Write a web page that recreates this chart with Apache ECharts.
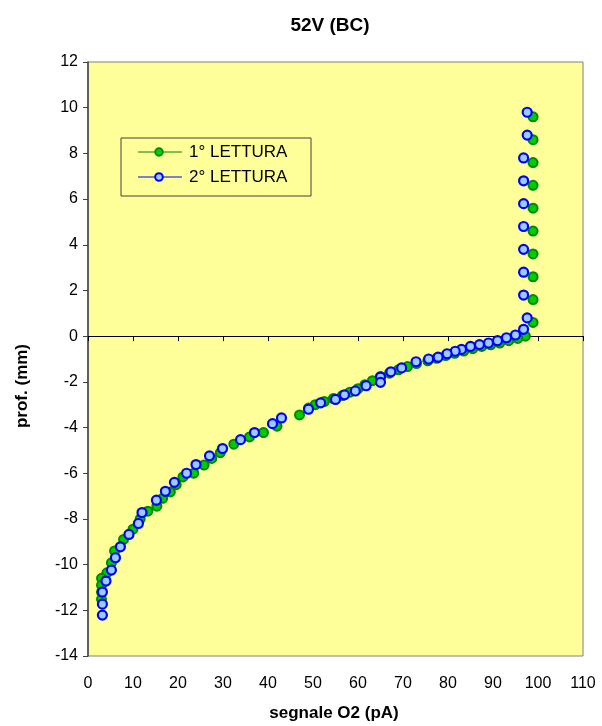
<!DOCTYPE html>
<html>
<head>
<meta charset="utf-8">
<script src="https://cdn.jsdelivr.net/npm/echarts@6/dist/echarts.min.js"></script>
<style>
html,body{margin:0;padding:0;background:#fff;}
#c{width:602px;height:726px;}
</style>
</head>
<body>
<div id="c"></div>
<script>
var titleText = "52V (BC)";
var xName = "segnale O2 (pA)";
var yName = "prof. (mm)";
var seriesNames = ["1° LETTURA", "2° LETTURA"];
var xTicks = [0, 10, 20, 30, 40, 50, 60, 70, 80, 90, 100, 110];
var yTicks = [-14, -12, -10, -8, -6, -4, -2, 0, 2, 4, 6, 8, 10, 12];

// 1° LETTURA : [segnale O2, prof.]
var lettura1 = [
  [98.9, 9.6], [98.9, 8.6], [98.9, 7.6], [98.9, 6.6], [98.9, 5.6], [98.9, 4.6],
  [98.9, 3.6], [98.9, 2.6], [98.9, 1.6], [98.9, 0.6],
  [97.2, 0.0], [95.5, -0.1], [93.5, -0.2], [91.5, -0.3], [89.5, -0.38], [87.5, -0.45],
  [85.5, -0.55], [83.5, -0.65], [81.5, -0.75], [79.5, -0.85], [77.5, -0.97], [75.5, -1.08],
  [73.0, -1.2], [71.0, -1.33], [69.0, -1.47], [67.0, -1.62], [65.0, -1.77], [63.2, -1.95],
  [61.5, -2.13], [60.0, -2.3], [58.2, -2.45], [56.5, -2.6], [54.5, -2.73], [52.5, -2.86],
  [50.5, -3.0], [49.0, -3.15], [47.0, -3.45],
  [42.0, -3.94], [39.0, -4.22], [35.9, -4.41], [32.4, -4.73], [29.4, -5.1], [27.5, -5.35],
  [25.8, -5.64], [23.5, -6.0], [21.1, -6.16], [19.6, -6.5], [18.3, -6.82], [16.6, -7.1],
  [15.3, -7.44], [13.3, -7.66], [11.6, -8.0], [10.0, -8.45], [7.9, -8.9], [5.9, -9.4],
  [5.2, -9.92], [4.2, -10.36], [3.0, -10.6], [3.0, -10.9], [3.0, -11.2], [3.0, -11.52]
];

// 2° LETTURA : [segnale O2, prof.]
var lettura2 = [
  [97.6, 9.8], [97.6, 8.8], [96.8, 7.8], [96.8, 6.8], [96.8, 5.8], [96.8, 4.8],
  [96.8, 3.8], [96.8, 2.8], [96.8, 1.8], [97.6, 0.8],
  [96.8, 0.3], [95.0, 0.05], [93.0, -0.07], [91.0, -0.2], [89.0, -0.3], [87.0, -0.37],
  [85.0, -0.45], [83.0, -0.58], [81.6, -0.66], [79.8, -0.77], [77.8, -0.92], [75.7, -1.0],
  [72.9, -1.12], [69.7, -1.39], [67.3, -1.56], [65.0, -1.79], [65.0, -2.02], [61.8, -2.17],
  [59.4, -2.4], [57.0, -2.57], [55.0, -2.77], [51.7, -2.92], [49.0, -3.2],
  [43.0, -3.58], [41.0, -3.83], [37.0, -4.22], [33.9, -4.53], [29.9, -4.92], [27.0, -5.24],
  [24.0, -5.62], [21.9, -6.0], [19.2, -6.4], [17.2, -6.79], [15.2, -7.18], [12.0, -7.72],
  [11.2, -8.2], [9.1, -8.68], [7.2, -9.22], [6.1, -9.7], [5.2, -10.24], [4.0, -10.72],
  [3.2, -11.2], [3.2, -11.73], [3.2, -12.21]
];

var chart = echarts.init(document.getElementById('c'), null, {renderer: 'canvas'});
var font = 'Liberation Sans, Arial, sans-serif';
var G = {left: 88, right: 19, top: 62, bottom: 70};

var option = {
  animation: false,
  backgroundColor: '#ffffff',
  textStyle: {fontFamily: font},
  title: {
    text: titleText, left: 325, top: 11, textAlign: 'center',
    textStyle: {fontFamily: font, fontSize: 19, fontWeight: 'bold', color: '#000'}
  },
  grid: {
    left: G.left, right: G.right, top: G.top, bottom: G.bottom,
    show: true, backgroundColor: '#FFFF99', borderColor: '#808080', borderWidth: 1
  },
  xAxis: [
    {
      type: 'value', min: xTicks[0], max: xTicks[xTicks.length - 1], interval: 10,
      axisLine: {show: true, onZero: true, lineStyle: {color: '#000', width: 1}},
      axisTick: {show: true, inside: false, length: 5, lineStyle: {color: '#000'}},
      axisLabel: {show: false}, splitLine: {show: false}
    },
    {
      type: 'value', position: 'bottom', min: xTicks[0], max: xTicks[xTicks.length - 1], interval: 10,
      axisLine: {show: false, onZero: false}, axisTick: {show: false}, splitLine: {show: false},
      axisLabel: {show: true, fontSize: 16, color: '#000', margin: 20, fontFamily: font}
    }
  ],
  yAxis: {
    type: 'value', min: yTicks[0], max: yTicks[yTicks.length - 1], interval: 2,
    axisLine: {show: true, onZero: false, lineStyle: {color: '#404040', width: 1.5}},
    axisTick: {show: true, inside: false, length: 5, lineStyle: {color: '#404040'}},
    axisLabel: {fontSize: 16, color: '#000', margin: 10, fontFamily: font},
    splitLine: {show: false}
  },
  graphic: [
    {type: 'text', x: 334, y: 713, style: {text: xName, fill: '#000', font: 'bold 17px ' + font, align: 'center', verticalAlign: 'middle'}},
    {type: 'text', x: 22, y: 386, rotation: Math.PI / 2, style: {text: yName, fill: '#000', font: 'bold 17px ' + font, align: 'center', verticalAlign: 'middle'}},
    {type: 'rect', shape: {x: 121, y: 138, width: 190, height: 58}, style: {fill: 'none', stroke: '#404040', lineWidth: 1}, z: 10},
    {type: 'line', shape: {x1: 138, y1: 152, x2: 182, y2: 152}, style: {stroke: '#008000', lineWidth: 1}, z: 10},
    {type: 'circle', shape: {cx: 159, cy: 152, r: 3.8}, style: {fill: '#00CC00', stroke: '#008800', lineWidth: 1.8}, z: 11},
    {type: 'text', x: 189, y: 152, style: {text: seriesNames[0], fill: '#000', font: '17px ' + font, verticalAlign: 'middle'}, z: 10},
    {type: 'line', shape: {x1: 138, y1: 177, x2: 182, y2: 177}, style: {stroke: '#0000FF', lineWidth: 1}, z: 10},
    {type: 'circle', shape: {cx: 159, cy: 177, r: 3.8}, style: {fill: '#99CCFF', stroke: '#0000FF', lineWidth: 2}, z: 11},
    {type: 'text', x: 189, y: 177, style: {text: seriesNames[1], fill: '#000', font: '17px ' + font, verticalAlign: 'middle'}, z: 10}
  ],
  series: [
    {
      name: seriesNames[0], type: 'scatter', xAxisIndex: 0, data: lettura1,
      symbol: 'circle', symbolSize: 9,
      itemStyle: {color: '#00CC00', borderColor: '#008800', borderWidth: 2, opacity: 1}
    },
    {
      name: seriesNames[1], type: 'scatter', xAxisIndex: 0, data: lettura2,
      symbol: 'circle', symbolSize: 9,
      itemStyle: {color: '#99CCFF', borderColor: '#0000FF', borderWidth: 2.2, opacity: 1}
    }
  ]
};
chart.setOption(option);
</script>
</body>
</html>
